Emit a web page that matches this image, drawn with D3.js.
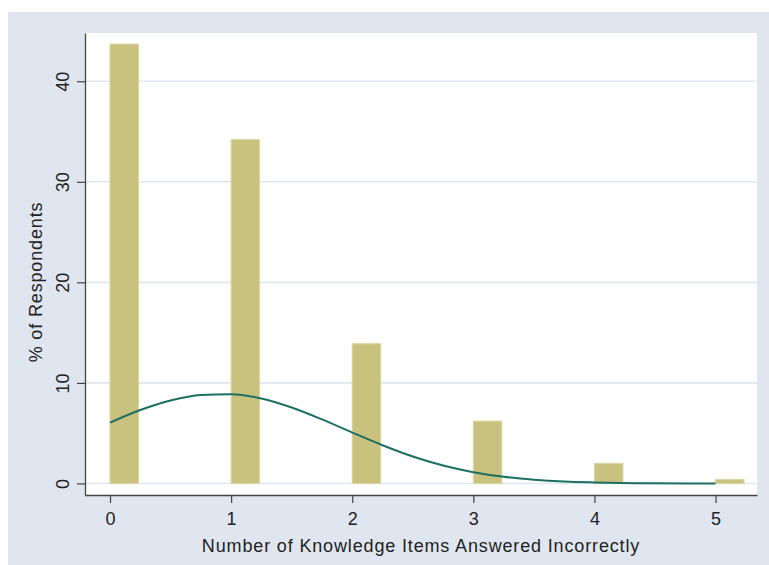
<!DOCTYPE html>
<html>
<head>
<meta charset="utf-8">
<script src="https://cdn.jsdelivr.net/npm/d3@7"></script>
<style>
  html, body { margin: 0; padding: 0; background: #ffffff; }
  svg { display: block; }
  text { font-family: "Liberation Sans", Arial, Helvetica, sans-serif; fill: #222; }
</style>
</head>
<body>
<svg id="chart" width="769" height="565"></svg>
<script>
// Number of knowledge items answered incorrectly (bin start) and % of respondents
const categories = [0, 1, 2, 3, 4, 5];
const percents = [43.7, 34.2, 13.9, 6.2, 2.0, 0.4];
const binWidth = 0.235;

// Normal density overlay, sampled along the x axis (in % units)
const curveX = [0, 0.25, 0.5, 0.75, 1, 1.25, 1.5, 1.75, 2, 2.25, 2.5, 2.75, 3, 3.25, 3.5, 3.75, 4, 4.5, 5];
const curveY = [6.05, 7.3, 8.25, 8.8, 8.88, 8.45, 7.55, 6.37, 5.06, 3.8, 2.68, 1.78, 1.12, 0.66, 0.37, 0.19, 0.1, 0.02, 0.0];

const xTicks = [0, 1, 2, 3, 4, 5];
const yTicks = [0, 10, 20, 30, 40];
const xTitle = "Number of Knowledge Items Answered Incorrectly";
const yTitle = "% of Respondents";

const svg = d3.select("#chart");

// outer graph region
svg.append("rect")
  .attr("x", 8).attr("y", 12)
  .attr("width", 761).attr("height", 553)
  .attr("fill", "#dfe6ef");

const plot = { left: 85, right: 757, top: 33, bottom: 495 };

svg.append("rect")
  .attr("x", plot.left).attr("y", plot.top)
  .attr("width", plot.right - plot.left).attr("height", plot.bottom - plot.top)
  .attr("fill", "#ffffff");

const x = d3.scaleLinear().domain([-0.2065, 5.342]).range([plot.left, plot.right]);
const y = d3.scaleLinear().domain([-1.15, 44.8]).range([plot.bottom, plot.top]);

// horizontal grid lines
svg.append("g").selectAll("line")
  .data(yTicks)
  .join("line")
  .attr("x1", plot.left).attr("x2", plot.right)
  .attr("y1", d => y(d)).attr("y2", d => y(d))
  .attr("stroke", "#dfe6ef")
  .attr("stroke-width", 1.6);

// histogram bars
svg.append("g").selectAll("rect")
  .data(categories.map((c, i) => ({ c, v: percents[i] })))
  .join("rect")
  .attr("x", d => x(d.c))
  .attr("y", d => y(d.v))
  .attr("width", d => x(d.c + binWidth) - x(d.c))
  .attr("height", d => y(0) - y(d.v))
  .attr("fill", "#c9c27e")
  .attr("stroke", "#dad5a2")
  .attr("stroke-width", 1);

// normal density curve
const line = d3.line()
  .x(d => x(d[0]))
  .y(d => y(d[1]))
  .curve(d3.curveMonotoneX);

svg.append("path")
  .datum(curveX.map((cx, i) => [cx, curveY[i]]))
  .attr("d", line)
  .attr("fill", "none")
  .attr("stroke", "#1d6f63")
  .attr("stroke-width", 2);

// axes
const xAxis = d3.axisBottom(x).tickValues(xTicks).tickFormat(d3.format("d"))
  .tickSize(8).tickPadding(9).tickSizeOuter(0);
const gx = svg.append("g")
  .attr("transform", `translate(0,${plot.bottom})`)
  .call(xAxis);
gx.select(".domain").attr("stroke", "#444").attr("stroke-width", 1.3);
gx.selectAll(".tick line").attr("stroke", "#444").attr("stroke-width", 1.2);
gx.selectAll(".tick text")
  .attr("font-size", 18)
  .attr("font-family", "Liberation Sans, Arial, sans-serif")
  .attr("fill", "#222");

const yAxis = d3.axisLeft(y).tickValues(yTicks).tickFormat(d3.format("d"))
  .tickSize(8).tickPadding(0).tickSizeOuter(0);
const gy = svg.append("g")
  .attr("transform", `translate(${plot.left},0)`)
  .call(yAxis);
gy.select(".domain").attr("stroke", "#444").attr("stroke-width", 1.3);
gy.selectAll(".tick line").attr("stroke", "#444").attr("stroke-width", 1.2);
gy.selectAll(".tick text")
  .attr("font-size", 18)
  .attr("font-family", "Liberation Sans, Arial, sans-serif")
  .attr("fill", "#222")
  .attr("x", 0).attr("dy", 0)
  .attr("text-anchor", "middle")
  .attr("transform", "translate(-16,0) rotate(-90)");

// axis titles
svg.append("text")
  .attr("x", (plot.left + plot.right) / 2)
  .attr("y", 552)
  .attr("text-anchor", "middle")
  .attr("font-size", 18)
  .attr("letter-spacing", 0.85)
  .text(xTitle);

svg.append("text")
  .attr("transform", "translate(42,282) rotate(-90)")
  .attr("text-anchor", "middle")
  .attr("font-size", 18)
  .attr("letter-spacing", 0.85)
  .text(yTitle);
</script>
</body>
</html>
